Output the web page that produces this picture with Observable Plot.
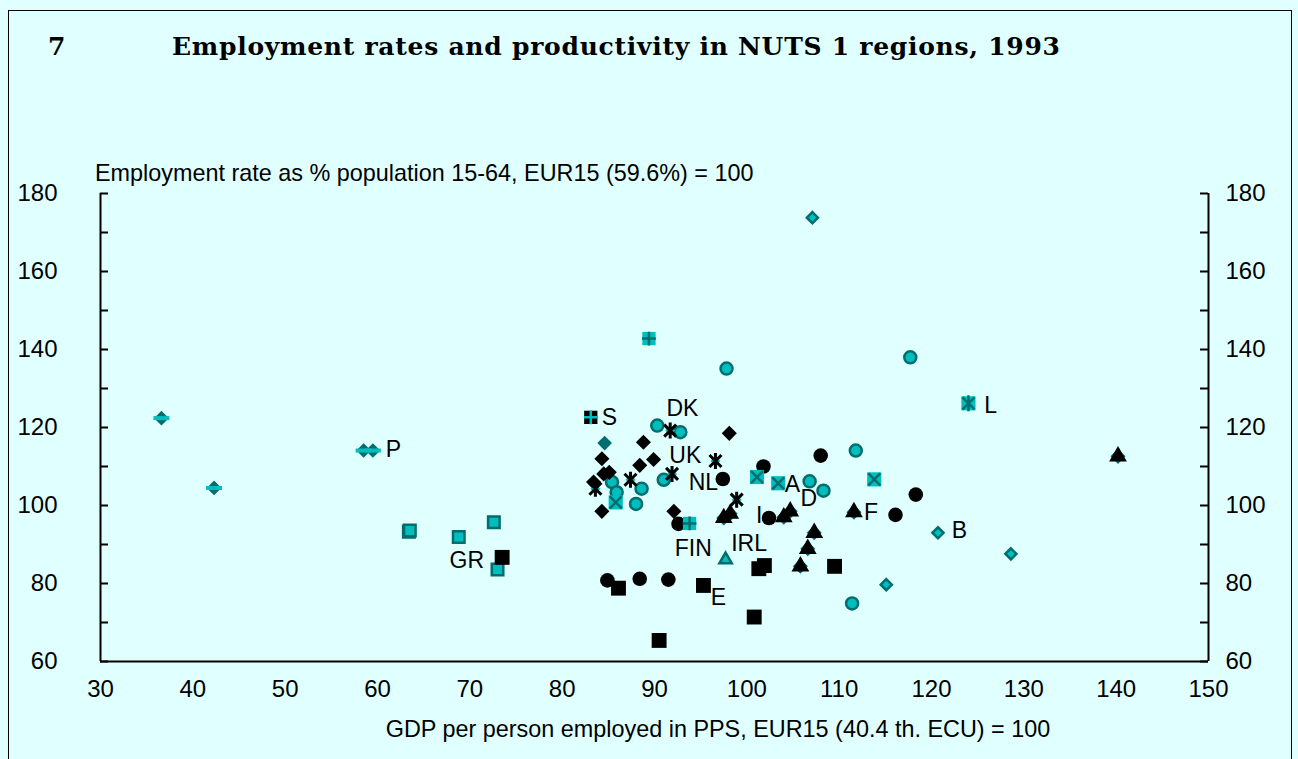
<!DOCTYPE html>
<html><head><meta charset="utf-8">
<script src="https://cdn.jsdelivr.net/npm/d3@7"></script>
<script src="https://cdn.jsdelivr.net/npm/@observablehq/plot@0.6"></script>
<style>
html,body{margin:0;padding:0;background:#E0FFFF;width:1298px;height:759px;overflow:hidden;}
#frame{position:absolute;left:8px;top:10px;width:1284px;height:800px;border:1px solid #000;box-sizing:border-box;}
#chart{position:absolute;left:0;top:150px;}
#titles{position:absolute;left:0;top:0;pointer-events:none;}
</style></head><body>
<div id="frame"></div>
<div id="chart"></div>
<svg id="titles" width="1298" height="759">
  <text x="48" y="55" font-family="DejaVu Serif" font-weight="bold" font-size="25">7</text>
  <text x="172" y="55" font-family="DejaVu Serif" font-weight="bold" font-size="25" textLength="888" lengthAdjust="spacing">Employment rates and productivity in NUTS 1 regions, 1993</text>
  <text x="95" y="181" font-family="Liberation Sans, Arial, sans-serif" font-size="23.4">Employment rate as % population 15-64, EUR15 (59.6%) = 100</text>
  <text x="718" y="737" text-anchor="middle" font-family="Liberation Sans, Arial, sans-serif" font-size="23.4">GDP per person employed in PPS, EUR15 (40.4 th. ECU) = 100</text>
</svg>
<script>
// ---- data (x = GDP per person employed, y = employment rate; EUR15 = 100) ----
const blackCircles = [[84.9,80.8],[88.4,81.2],[91.5,81.0],[92.6,95.3],[97.4,106.8],[101.8,110.0],[102.4,96.8],[108.0,112.8],[116.1,97.6],[118.3,102.8]];
const tealCircles = [[90.3,120.5],[92.8,118.8],[85.4,106.0],[85.9,103.4],[88.6,104.3],[88.0,100.4],[91.0,106.6],[111.8,114.1],[106.8,106.2],[108.3,103.8],[117.7,138.0],[111.4,74.9],[97.8,135.1]];
const blackDiamonds = [[88.8,116.2],[98.1,118.5],[84.3,112.0],[89.9,111.8],[88.4,110.3],[85.1,108.5],[84.5,108.1],[83.4,106.0],[84.3,98.5],[92.1,98.5]];
const darkTealDiamonds = [[84.6,116.0]];
const blackAsterisks = [[87.4,106.6],[83.6,104.3],[91.9,108.1],[96.6,111.4],[98.9,101.5],[91.7,119.2]];
const blackTriangles = [[97.5,96.8],[98.2,97.9],[104.0,97.0],[104.7,98.5],[111.6,98.3],[107.3,93.0],[106.6,88.9],[105.8,84.4],[140.2,112.6]];
const blackSquares = [[86.1,78.8],[95.3,79.5],[90.5,65.4],[100.8,71.4],[101.3,83.8],[101.9,84.6],[109.5,84.4],[73.5,86.7]];
const tealSquares = [[63.4,93.3],[63.5,93.6],[68.8,91.9],[72.6,95.7],[73.0,83.6]];
const splitDiamonds = [[36.6,122.4],[42.3,104.5],[58.5,114.1],[59.5,114.1]];
const tealDiamonds = [[120.7,93.0],[128.6,87.6],[115.1,79.7],[107.1,173.8]];
const plusSquares = [[89.4,142.8],[93.8,95.4]];
const blackPlusSquares = [[83.1,122.6]];
const timesSquares = [[101.1,107.3],[103.4,105.7],[113.8,106.7],[85.8,100.8]];
const asteriskSquares = [[124.0,126.2]];
const tealTriangles = [[97.7,86.1]];

const labelText = ["S","DK","UK","NL","A","D","I","F","B","L","P","GR","FIN","IRL","E"];
const labelX = [84.3,91.3,91.6,93.7,104.1,105.8,101.0,112.7,122.2,125.7,60.9,67.8,92.2,98.3,96.1];
const labelY = [122.6,124.9,112.8,105.9,105.4,101.8,97.4,98.2,93.6,125.6,114.4,85.9,89.0,90.3,76.4];

const xTicks = [30,40,50,60,70,80,90,100,110,120,130,140,150];
const yTicks = [60,80,100,120,140,160,180];
const yMinorTicks = [60,70,80,90,100,110,120,130,140,150,160,170,180];

// ---- styling ----
const teal = "#00BEBE", dark = "#006E6E";
const W = 1298, H = 609, mL = 100, mR = 90, mT = 43, mB = 98;
const innerW = W - mL - mR;

const asterX = {draw(ctx, size){ const h = Math.sqrt(size/Math.PI); const d = h*0.75;
  ctx.moveTo(-d,-d); ctx.lineTo(d,d); ctx.moveTo(-d,d); ctx.lineTo(d,-d);
  ctx.moveTo(0,-h); ctx.lineTo(0,h); }};
const hyphen = {draw(ctx, size){ const h = Math.sqrt(size/Math.PI); ctx.moveTo(-h,0); ctx.lineTo(h,0); }};

const pts = a => a.map(([x,y]) => ({x, y}));
const labels = labelText.map((t,i) => ({t, x: labelX[i], y: labelY[i]}));

const chart = Plot.plot({
  width: W, height: H,
  marginLeft: mL, marginRight: mR, marginTop: mT, marginBottom: mB,
  x: {domain: [30,150]},
  y: {domain: [60,180]},
  style: {background: "transparent", color: "#000", fontFamily: "Liberation Sans, Arial, sans-serif", fontSize: "24px", overflow: "visible"},
  marks: [
    Plot.ruleX([30,150], {stroke: "#000", strokeWidth: 2}),
    Plot.ruleY([60], {stroke: "#000", strokeWidth: 2}),
    Plot.tickY(yMinorTicks, {stroke: "#000", strokeWidth: 2, insetRight: innerW - 8}),
    Plot.tickY(yMinorTicks, {stroke: "#000", strokeWidth: 2, insetLeft: innerW - 8}),
    Plot.axisX({ticks: xTicks, tickSize: 0, tickPadding: 18, label: null}),
    Plot.axisY({anchor: "left", ticks: yTicks, tickSize: 0, tickPadding: 43, label: null}),
    Plot.axisY({anchor: "right", ticks: yTicks, tickSize: 0, tickPadding: 17, label: null}),

    Plot.dot(pts(tealSquares), {x: "x", y: "y", symbol: "square", r: 6.5, fill: teal, stroke: dark, strokeWidth: 2.5}),
    Plot.dot(pts(splitDiamonds), {x: "x", y: "y", symbol: "diamond2", r: 6.6, fill: dark}),
    Plot.dot(pts(splitDiamonds), {x: "x", y: "y", symbol: hyphen, r: 8, fill: "none", stroke: teal, strokeWidth: 4}),
    Plot.dot(pts(tealDiamonds), {x: "x", y: "y", symbol: "diamond2", r: 5, fill: teal, stroke: dark, strokeWidth: 2.5}),
    Plot.dot(pts(blackTriangles), {x: "x", y: "y", symbol: "diamond2", r: 5.5, fill: teal, stroke: dark, strokeWidth: 2}),
    Plot.dot(pts(blackTriangles), {x: "x", y: "y", symbol: "triangle", r: 6.6, fill: "#000"}),
    Plot.dot(pts(tealCircles), {x: "x", y: "y", symbol: "circle", r: 6, fill: teal, stroke: dark, strokeWidth: 2.5}),
    Plot.dot(pts(blackCircles), {x: "x", y: "y", symbol: "circle", r: 7.3, fill: "#000"}),
    Plot.dot(pts(blackSquares), {x: "x", y: "y", symbol: "square", r: 8.4, fill: "#000"}),
    Plot.dot(pts(timesSquares), {x: "x", y: "y", symbol: "square", r: 8, fill: teal}),
    Plot.dot(pts(timesSquares), {x: "x", y: "y", symbol: "times", r: 5.5, stroke: dark, strokeWidth: 2.5}),
    Plot.dot(pts(asteriskSquares), {x: "x", y: "y", symbol: "square", r: 8, fill: teal}),
    Plot.dot(pts(asteriskSquares), {x: "x", y: "y", symbol: asterX, r: 8, fill: "none", stroke: dark, strokeWidth: 2.5}),
    Plot.dot(pts(plusSquares), {x: "x", y: "y", symbol: "square", r: 7.5, fill: teal}),
    Plot.dot(pts(plusSquares), {x: "x", y: "y", symbol: "plus", r: 4.5, stroke: dark, strokeWidth: 2.5}),
    Plot.dot(pts(blackPlusSquares), {x: "x", y: "y", symbol: "square", r: 7.5, fill: "#000"}),
    Plot.dot(pts(blackPlusSquares), {x: "x", y: "y", symbol: "plus", r: 4.5, stroke: teal, strokeWidth: 2.5}),
    Plot.dot(pts(tealTriangles), {x: "x", y: "y", symbol: "triangle", r: 4.6, fill: teal, stroke: dark, strokeWidth: 2.5}),
    Plot.dot(pts(darkTealDiamonds), {x: "x", y: "y", symbol: "diamond2", r: 6.6, fill: dark}),
    Plot.dot(pts(blackDiamonds), {x: "x", y: "y", symbol: "diamond2", r: 6.8, fill: "#000"}),
    Plot.dot(pts(blackAsterisks), {x: "x", y: "y", symbol: "diamond2", r: 4.5, fill: teal}),
    Plot.dot(pts(blackAsterisks), {x: "x", y: "y", symbol: asterX, r: 8, fill: "none", stroke: "#000", strokeWidth: 3}),

    Plot.text(labels, {x: "x", y: "y", text: "t", textAnchor: "start", fontSize: 23, fill: "#000"})
  ]
});
document.getElementById("chart").appendChild(chart);
</script>
</body></html>
